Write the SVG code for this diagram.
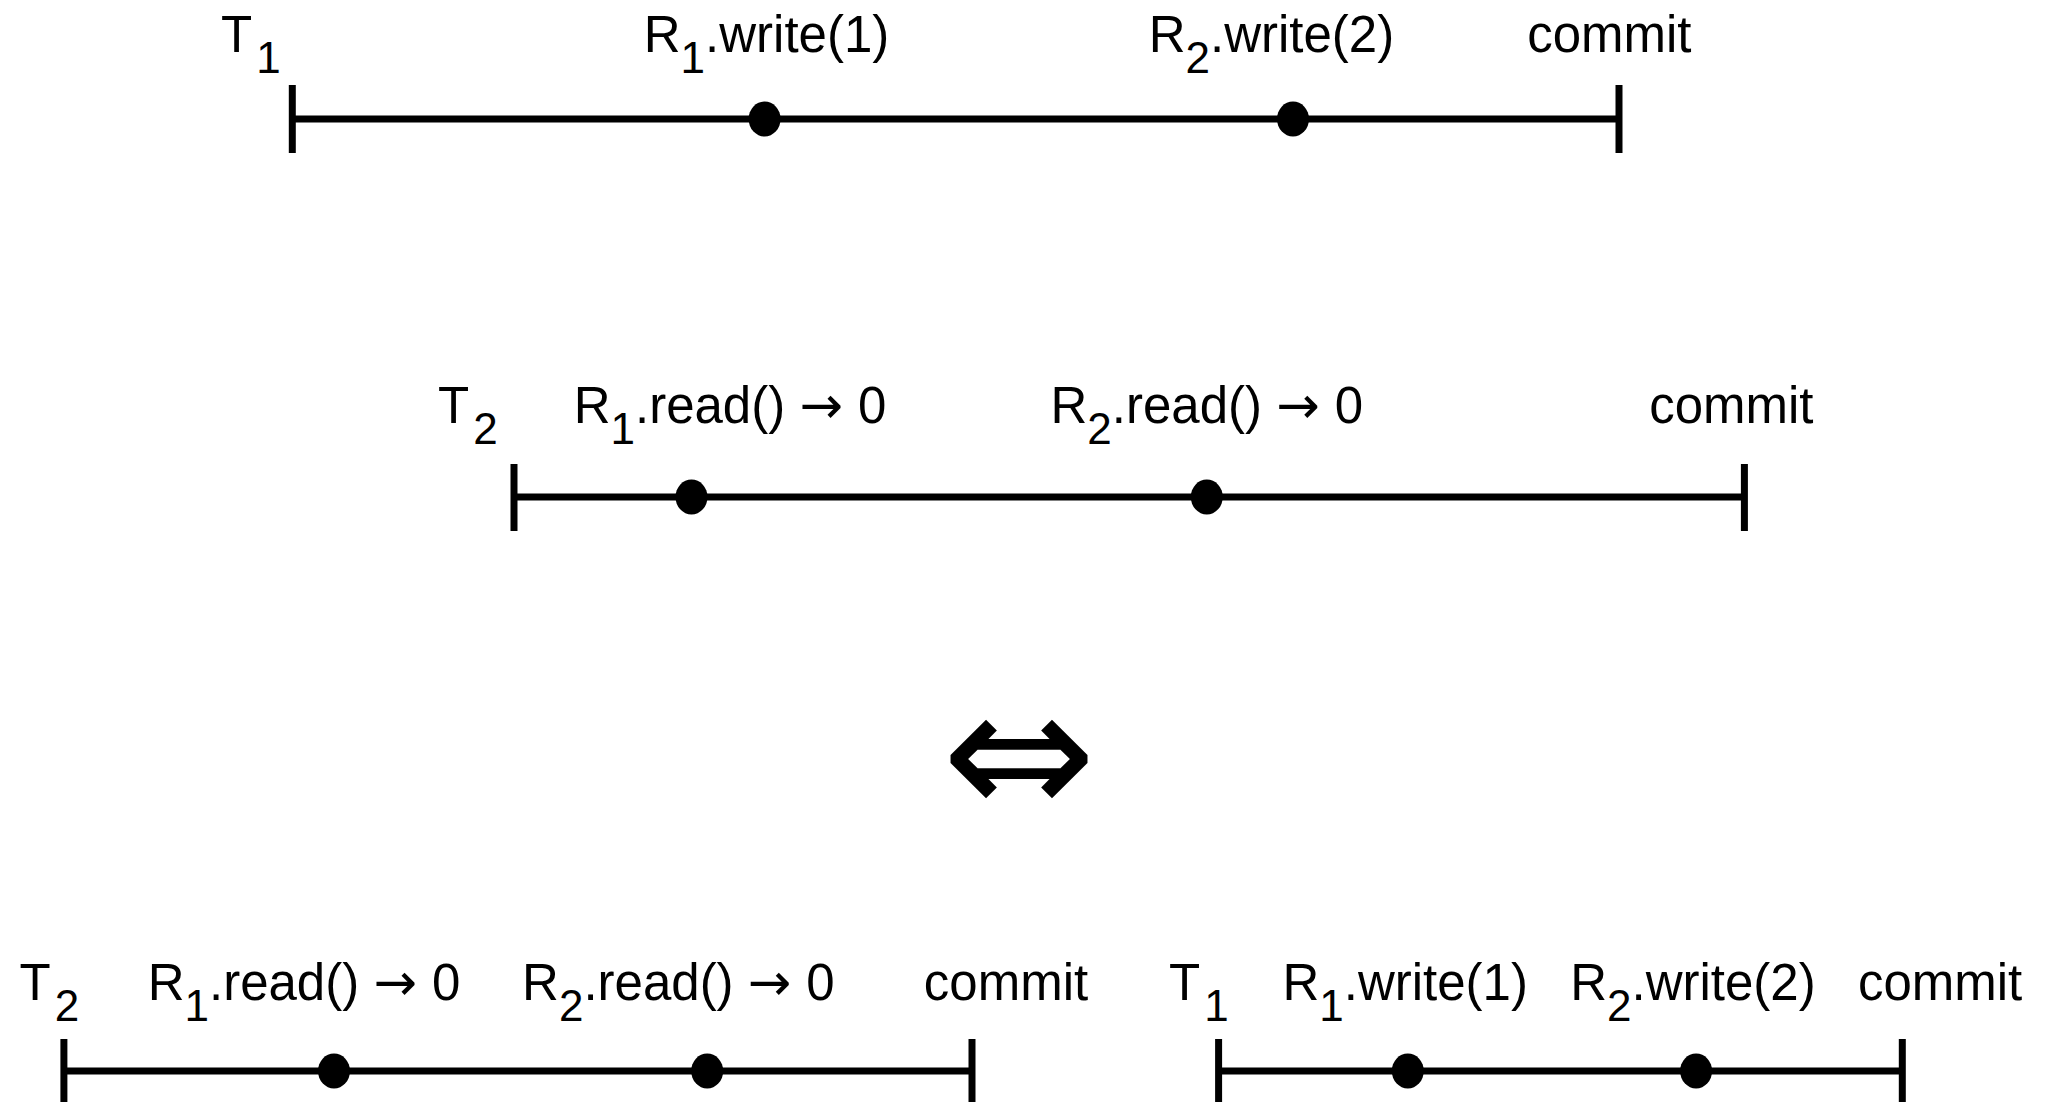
<svg xmlns="http://www.w3.org/2000/svg" width="2045" height="1102" viewBox="0 0 2045 1102">
<style>
.bg{fill:#ffffff}
.lbl{font-family:"Liberation Sans",Arial,sans-serif;font-size:51px;fill:#000}
.mid{text-anchor:middle}
.sub{font-size:44px}
.arr{font-family:"DejaVu Sans",sans-serif;font-size:52px}
.ln{stroke:#000;stroke-width:7;fill:none}
.dot{fill:#000}
.sym{font-family:"DejaVu Sans",sans-serif;font-size:185px;fill:#000;text-anchor:middle}
</style>
<rect class="bg" x="0" y="0" width="2045" height="1102"/>
<g id="connectors">
<line class="ln" x1="292.3" y1="119" x2="1619" y2="119"/>
<line class="ln" x1="514" y1="497" x2="1744.4" y2="497"/>
<line class="ln" x1="63.9" y1="1071" x2="972" y2="1071"/>
<line class="ln" x1="1218.6" y1="1071" x2="1902.3" y2="1071"/>
</g>
<g id="t1-top">
<line class="ln" x1="292.3" y1="85" x2="292.3" y2="153"/>
<line class="ln" x1="1619" y1="85" x2="1619" y2="153"/>
<ellipse class="dot" cx="764.6" cy="119" rx="16" ry="17.5"/>
<ellipse class="dot" cx="1293" cy="119" rx="16" ry="17.5"/>
<text class="lbl" x="221" y="52">T<tspan class="sub" dx="4" dy="21">1</tspan></text>
<text class="lbl mid" x="766.5" y="52">R<tspan class="sub" dy="21">1</tspan><tspan dy="-21">.write(1)</tspan></text>
<text class="lbl mid" x="1271.4" y="52">R<tspan class="sub" dy="21">2</tspan><tspan dy="-21">.write(2)</tspan></text>
<text class="lbl mid" x="1609.3" y="52">commit</text>
</g>
<g id="t2-middle">
<line class="ln" x1="514" y1="464" x2="514" y2="531"/>
<line class="ln" x1="1744.4" y1="464" x2="1744.4" y2="531"/>
<ellipse class="dot" cx="691.5" cy="497" rx="16" ry="17.5"/>
<ellipse class="dot" cx="1206.8" cy="497" rx="16" ry="17.5"/>
<text class="lbl" x="438" y="423">T<tspan class="sub" dx="4" dy="21">2</tspan></text>
<text class="lbl mid" x="730" y="423">R<tspan class="sub" dy="21">1</tspan><tspan dy="-21">.read() </tspan><tspan class="arr">→</tspan><tspan dx="15">0</tspan></text>
<text class="lbl mid" x="1206.8" y="423">R<tspan class="sub" dy="21">2</tspan><tspan dy="-21">.read() </tspan><tspan class="arr">→</tspan><tspan dx="15">0</tspan></text>
<text class="lbl mid" x="1731.3" y="423">commit</text>
</g>
<g id="equivalence">
<text class="sym" x="1019" y="817">⇔</text>
</g>
<g id="t2-bottom">
<line class="ln" x1="63.9" y1="1039" x2="63.9" y2="1102"/>
<line class="ln" x1="972" y1="1039" x2="972" y2="1102"/>
<ellipse class="dot" cx="334" cy="1071" rx="16" ry="17.5"/>
<ellipse class="dot" cx="707.2" cy="1071" rx="16" ry="17.5"/>
<text class="lbl" x="19.6" y="1000">T<tspan class="sub" dx="4" dy="21">2</tspan></text>
<text class="lbl mid" x="304" y="1000">R<tspan class="sub" dy="21">1</tspan><tspan dy="-21">.read() </tspan><tspan class="arr">→</tspan><tspan dx="15">0</tspan></text>
<text class="lbl mid" x="678.4" y="1000">R<tspan class="sub" dy="21">2</tspan><tspan dy="-21">.read() </tspan><tspan class="arr">→</tspan><tspan dx="15">0</tspan></text>
<text class="lbl mid" x="1006" y="1000">commit</text>
</g>
<g id="t1-bottom">
<line class="ln" x1="1218.6" y1="1039" x2="1218.6" y2="1102"/>
<line class="ln" x1="1902.3" y1="1039" x2="1902.3" y2="1102"/>
<ellipse class="dot" cx="1407.8" cy="1071" rx="16" ry="17.5"/>
<ellipse class="dot" cx="1696.1" cy="1071" rx="16" ry="17.5"/>
<text class="lbl" x="1169" y="1000">T<tspan class="sub" dx="4" dy="21">1</tspan></text>
<text class="lbl mid" x="1405.2" y="1000">R<tspan class="sub" dy="21">1</tspan><tspan dy="-21">.write(1)</tspan></text>
<text class="lbl mid" x="1692.9" y="1000">R<tspan class="sub" dy="21">2</tspan><tspan dy="-21">.write(2)</tspan></text>
<text class="lbl mid" x="1940.1" y="1000">commit</text>
</g>
</svg>
